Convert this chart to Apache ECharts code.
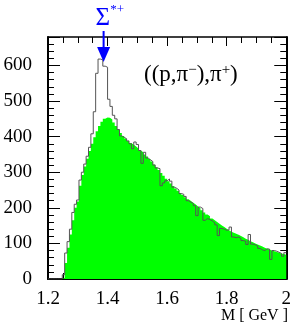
<!DOCTYPE html>
<html>
<head>
<meta charset="utf-8">
<script src="https://cdn.jsdelivr.net/npm/echarts@6/dist/echarts.min.js"></script>
<style>html,body{margin:0;padding:0;background:#fff}#c{width:294px;height:326px}</style>
</head>
<body>
<div id="c"></div>
<script>
// Histogram binning (GeV)
const binStart = 1.2;
const binWidth = 0.008;
const xTickLabels = ['1.2', '1.4', '1.6', '1.8', '2'];
const yTickLabels = ['0', '100', '200', '300', '400', '500', '600'];
// Signal histogram (outline), counts per bin
const outlineCounts = [
  0, 0, 0, 0, 0, 0, 12, 73, 105, 140,
  187, 210, 222, 278, 300, 323, 345, 370, 408, 470,
  578, 618, 616, 598, 595, 505, 485, 460, 450, 420,
  402, 398, 394, 388, 380, 366, 385, 378, 361, 325,
  356, 340, 335, 330, 320, 312, 310, 262, 270, 276,
  281, 275, 258, 255, 250, 240, 238, 232, 220, 216,
  212, 206, 178, 202, 198, 165, 170, 167, 163, 158,
  152, 122, 142, 140, 137, 138, 146, 118, 116, 118,
  114, 108, 106, 97, 125, 98, 96, 93, 86, 82,
  80, 85, 84, 55, 80, 78, 75, 72, 64, 74
];
// Background histogram (green filled), counts per bin
const backgroundCounts = [
  0, 0, 0, 0, 0, 0, 3, 45, 88, 125,
  165, 200, 218, 262, 292, 316, 338, 360, 380, 398,
  415, 430, 442, 450, 454, 453, 448, 440, 430, 420,
  410, 402, 395, 388, 382, 377, 372, 367, 361, 356,
  350, 344, 337, 330, 322, 314, 306, 298, 290, 282,
  275, 268, 261, 254, 248, 242, 236, 230, 224, 219,
  214, 209, 204, 199, 193, 187, 181, 176, 170, 165,
  160, 155, 150, 146, 141, 137, 133, 130, 127, 124,
  121, 117, 113, 110, 106, 103, 100, 97, 94, 91,
  88, 85, 83, 80, 78, 76, 74, 72, 70, 68
];
const peakMass = 1.3867; // Sigma*+ marker position

function stepData(counts) {
  const d = counts.map((v, i) => [+(binStart + i * binWidth).toFixed(4), v]);
  d.push([+(binStart + counts.length * binWidth).toFixed(4), counts[counts.length - 1]]);
  return d;
}

const serif = 'Liberation Serif';
const chart = echarts.init(document.getElementById('c'), null, {renderer: 'canvas'});
const axisCommon = {
  type: 'value', min: 1.2, max: 2.0, interval: 0.2
};
chart.setOption({
  animation: false,
  backgroundColor: '#fff',
  grid: {left: 48, right: 6, top: 37, bottom: 47, containLabel: false},
  xAxis: [
    Object.assign({}, axisCommon, {
      position: 'bottom',
      axisLine: {show: true, onZero: false, lineStyle: {color: '#000', width: 2}},
      axisTick: {show: true, inside: true, length: 12, lineStyle: {color: '#000', width: 1}},
      minorTick: {show: true, splitNumber: 4, length: 6, lineStyle: {color: '#000', width: 1}},
      splitLine: {show: false},
      axisLabel: {
        margin: 11, color: '#000', fontFamily: serif, fontSize: 19,
        formatter: v => { const s = xTickLabels.find(t => Math.abs(parseFloat(t) - v) < 1e-6); return s || ''; }
      }
    }),
    Object.assign({}, axisCommon, {
      position: 'top',
      axisLine: {show: true, onZero: false, lineStyle: {color: '#000', width: 1.5}},
      axisTick: {show: true, inside: true, length: 9, lineStyle: {color: '#000', width: 1}},
      minorTick: {show: true, splitNumber: 4, length: 6, lineStyle: {color: '#000', width: 1}},
      splitLine: {show: false},
      axisLabel: {show: false}
    })
  ],
  yAxis: [
    {
      type: 'value', min: 0, max: 680, interval: 100, position: 'left',
      axisLine: {show: true, onZero: false, lineStyle: {color: '#000', width: 2}},
      axisTick: {show: true, inside: true, length: 12, lineStyle: {color: '#000', width: 1}},
      minorTick: {show: true, splitNumber: 5, length: 6, lineStyle: {color: '#000', width: 1}},
      splitLine: {show: false},
      axisLabel: {
        margin: 16, color: '#000', fontFamily: serif, fontSize: 19,
        formatter: v => yTickLabels.includes(String(v)) ? String(v) : ''
      }
    },
    {
      type: 'value', min: 0, max: 680, interval: 100, position: 'right',
      axisLine: {show: true, onZero: false, lineStyle: {color: '#000', width: 2}},
      axisTick: {show: true, inside: true, length: 12, lineStyle: {color: '#000', width: 1}},
      minorTick: {show: true, splitNumber: 5, length: 6, lineStyle: {color: '#000', width: 1}},
      splitLine: {show: false},
      axisLabel: {show: false}
    }
  ],
  series: [
    {
      type: 'line', step: 'end', data: stepData(backgroundCounts),
      symbol: 'none', lineStyle: {width: 0, color: '#00ff00'},
      areaStyle: {color: '#00ff00', opacity: 1}, z: 2, silent: true
    },
    {
      type: 'line', step: 'end', data: stepData(outlineCounts),
      symbol: 'none', lineStyle: {width: 1, color: '#555'}, z: 3, silent: true
    }
  ]
});

const px = chart.convertToPixel({xAxisIndex: 0}, peakMass);
chart.setOption({
  graphic: [
    {
      type: 'text', left: 144, top: 63, z: 10,
      style: {
        text: '((p,π{s|−}),π{s|+})', fill: '#000', font: '23px "Liberation Serif"',
        rich: {s: {fontSize: 15, fontFamily: serif, verticalAlign: 'top', fill: '#000'}}
      }
    },
    {
      type: 'text', right: 6, top: 308, z: 10,
      style: {text: 'M [ GeV ]', fill: '#000', font: '16px "Liberation Serif"'}
    },
    {
      type: 'text', x: px - 8, y: 3, z: 10,
      style: {
        text: 'Σ{s|*+}', fill: '#0000ff', font: '25px "Liberation Serif"', lineHeight: 30,
        rich: {s: {fontSize: 13, fontFamily: serif, verticalAlign: 'top', fill: '#0000ff'}}
      }
    },
    {
      type: 'line', z: 10,
      shape: {x1: px, y1: 31, x2: px, y2: 48},
      style: {stroke: '#0000ff', lineWidth: 2}
    },
    {
      type: 'polygon', z: 10,
      shape: {points: [[px - 6.5, 47], [px + 6.5, 47], [px, 62]]},
      style: {fill: '#0000ff'}
    }
  ]
});
</script>
</body>
</html>
